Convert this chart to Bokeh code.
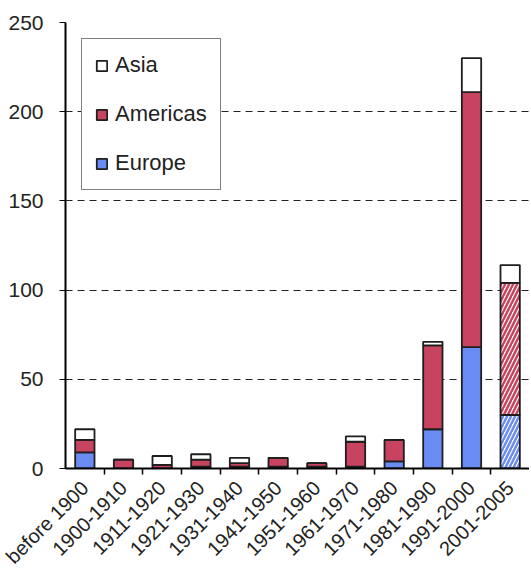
import numpy as np
from bokeh.plotting import figure
from bokeh.models import Range1d, FixedTicker, Legend, LegendItem, ColumnDataSource
from bokeh.embed import file_html
from bokeh.resources import INLINE

periods = ["before 1900", "1900-1910", "1911-1920", "1921-1930", "1931-1940",
           "1941-1950", "1951-1960", "1961-1970", "1971-1980", "1981-1990",
           "1991-2000", "2001-2005"]
europe = [9, 0, 0, 1, 1, 1, 1, 1, 4, 22, 68, 30]
americas = [7, 5, 2, 4, 2, 5, 2, 14, 12, 47, 143, 74]
asia = [6, 0, 5, 3, 3, 0, 0, 3, 0, 2, 19, 10]
hatched = [False] * 11 + [True]
y_ticks = [0, 50, 100, 150, 200, 250]
grid_ticks = [50, 100, 150, 200]

EU_COL = "#6a8cf2"
AM_COL = "#c8435f"
OUTLINE = "#1e1e1e"

n = len(periods)
x = np.arange(1, n + 1)
eu = np.array(europe, dtype=float)
am = np.array(americas, dtype=float)
asi = np.array(asia, dtype=float)

def fills(col):
    return ["white" if h else col for h in hatched]

def hatches():
    return ["/" if h else " " for h in hatched]

src_eu = ColumnDataSource(dict(x=x, bottom=np.zeros(n), top=eu,
                               fill=fills(EU_COL), hatch=hatches()))
src_am = ColumnDataSource(dict(x=x, bottom=eu, top=eu + am,
                               fill=fills(AM_COL), hatch=hatches()))
src_as = ColumnDataSource(dict(x=x, bottom=eu + am, top=eu + am + asi))

p = figure(width=529, height=578, output_backend="svg", toolbar_location=None,
           x_range=Range1d(0.5, n + 0.5), y_range=Range1d(0, 250),
           min_border_left=65, min_border_right=0, min_border_top=22,
           min_border_bottom=110)
p.outline_line_color = None
p.background_fill_color = "white"

bw = 0.5
r_eu = p.vbar(x="x", bottom="bottom", top="top", width=bw, source=src_eu,
              fill_color="fill", hatch_pattern="hatch", hatch_color=EU_COL,
              hatch_scale=8, hatch_weight=2.5,
              line_color=OUTLINE, line_width=1.8)
r_am = p.vbar(x="x", bottom="bottom", top="top", width=bw, source=src_am,
              fill_color="fill", hatch_pattern="hatch", hatch_color=AM_COL,
              hatch_scale=8, hatch_weight=2.5,
              line_color=OUTLINE, line_width=1.8)
r_as = p.vbar(x="x", bottom="bottom", top="top", width=bw, source=src_as,
              fill_color="white", line_color=OUTLINE, line_width=1.8)

# grid
p.xgrid.visible = False
p.ygrid.ticker = FixedTicker(ticks=grid_ticks)
p.ygrid.grid_line_color = "#222222"
p.ygrid.grid_line_dash = "7 5"
p.ygrid.grid_line_width = 1.2

FONT = "Liberation Sans"
# y axis
p.yaxis.ticker = FixedTicker(ticks=y_ticks)
p.yaxis.axis_line_color = "black"
p.yaxis.axis_line_width = 2
p.yaxis.major_tick_line_color = "black"
p.yaxis.major_tick_out = 6
p.yaxis.major_tick_in = 0
p.yaxis.minor_tick_line_color = None
p.yaxis.major_label_text_font = FONT
p.yaxis.major_label_text_font_size = "21px"
p.yaxis.major_label_text_color = "#222222"
p.yaxis.major_label_standoff = 16

# x axis
p.xaxis.ticker = FixedTicker(ticks=list(x), minor_ticks=list(x[:-1] + 0.5))
p.xaxis.major_label_overrides = {int(i): lab for i, lab in zip(x, periods)}
p.xaxis.major_label_orientation = np.pi / 4
p.xaxis.axis_line_color = "black"
p.xaxis.axis_line_width = 2
p.xaxis.major_tick_out = 0
p.xaxis.major_tick_in = 0
p.xaxis.minor_tick_out = 6
p.xaxis.minor_tick_in = 0
p.xaxis.minor_tick_line_color = "black"
p.xaxis.minor_tick_line_width = 1.5
p.xaxis.major_label_text_font = FONT
p.xaxis.major_label_text_font_size = "20px"
p.xaxis.major_label_text_color = "#222222"
p.xaxis.major_label_standoff = 10

legend = Legend(items=[LegendItem(label="Asia", renderers=[r_as], index=0),
                       LegendItem(label="Americas", renderers=[r_am], index=0),
                       LegendItem(label="Europe", renderers=[r_eu], index=0)],
                location="top_left", margin=16)
legend.border_line_color = "black"
legend.border_line_width = 1.5
legend.background_fill_color = "white"
legend.background_fill_alpha = 1
legend.padding = 13
legend.spacing = 23
legend.glyph_width = 13
legend.glyph_height = 13
legend.label_standoff = 7
legend.label_text_font = FONT
legend.label_text_font_size = "22px"
legend.label_text_color = "#222222"
p.add_layout(legend)

open("out.html", "w").write(file_html(p, INLINE))
